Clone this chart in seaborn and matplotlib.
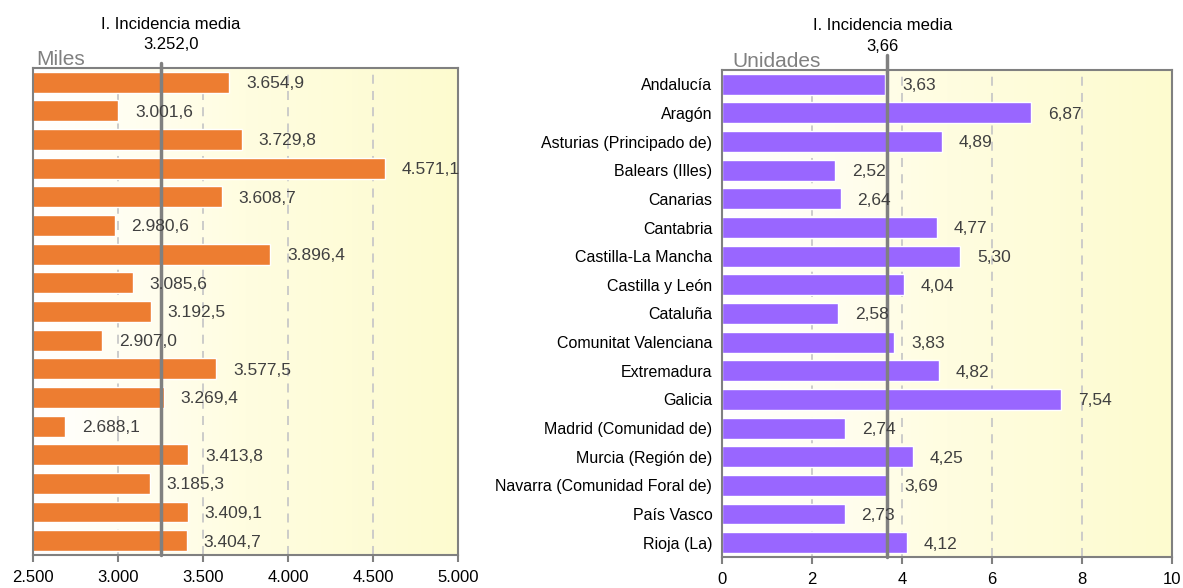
import numpy as np
import pandas as pd
import matplotlib
matplotlib.use("Agg")
import matplotlib.pyplot as plt
from matplotlib.colors import LinearSegmentedColormap
import seaborn as sns

# Data
regions = [
    "Andalucía", "Aragón", "Asturias (Principado de)", "Balears (Illes)",
    "Canarias", "Cantabria", "Castilla-La Mancha", "Castilla y León",
    "Cataluña", "Comunitat Valenciana", "Extremadura", "Galicia",
    "Madrid (Comunidad de)", "Murcia (Región de)",
    "Navarra (Comunidad Foral de)", "País Vasco", "Rioja (La)",
]
miles = [3654.9, 3001.6, 3729.8, 4571.1, 3608.7, 2980.6, 3896.4, 3085.6,
         3192.5, 2907.0, 3577.5, 3269.4, 2688.1, 3413.8, 3185.3, 3409.1, 3404.7]
unidades = [3.63, 6.87, 4.89, 2.52, 2.64, 4.77, 5.30, 4.04, 2.58, 3.83,
            4.82, 7.54, 2.74, 4.25, 3.69, 2.73, 4.12]
media_miles = 3252.0
media_unidades = 3.66
left_ticks = [2500, 3000, 3500, 4000, 4500, 5000]
right_ticks = [0, 2, 4, 6, 8, 10]

ORANGE = "#ED7D31"
PURPLE = "#9966FF"
GREY = "#808080"
TEXT = "#404040"


def es_num(v, dec=1):
    s = f"{v:,.{dec}f}"
    return s.replace(",", "X").replace(".", ",").replace("X", ".")


sns.set_theme(style="white")
plt.rcParams["font.family"] = ["Liberation Sans", "DejaVu Sans"]

df = pd.DataFrame({"region": regions, "miles": miles, "unidades": unidades})

fig = plt.figure(figsize=(11.83, 5.88), dpi=100)
ax1 = fig.add_axes([0.0279, 0.0561, 0.3593, 0.8283])
ax2 = fig.add_axes([0.6103, 0.0527, 0.3804, 0.8283])

bg = LinearSegmentedColormap.from_list("bg", ["#FFFFFF", "#FFFDE0", "#FDFBCF"])
grad = np.linspace(0, 1, 256).reshape(1, -1)


def style_axis(ax, values, color, lim, ticks, mean, dec, unit, ticklabels,
               line_top, unit_x, head_dx):
    ax.imshow(grad, cmap=bg, aspect="auto", extent=[0, 1, 0, 1],
              transform=ax.transAxes, zorder=0)
    sns.barplot(data=df, x=values, y="region", color=color, width=0.73,
                saturation=1, ax=ax, zorder=2)
    ax.set_xlim(*lim)
    ax.set_ylim(len(regions) - 0.5, -0.5)
    ax.set_xticks(ticks)
    ax.set_xticklabels(ticklabels, fontsize=12, color="black")
    for t in ticks[1:-1]:
        ax.axvline(t, color="#C8C8C8", lw=1.3, ls=(0, (5, 4)), zorder=1)
    for s in ax.spines.values():
        s.set_color(GREY)
        s.set_linewidth(1.5)
    ax.tick_params(axis="x", length=5, width=1.5, color=GREY, pad=6,
                   direction="out", bottom=True)
    ax.set_xlabel("")
    ax.set_ylabel("")
    for i, v in enumerate(df[values]):
        ax.annotate(es_num(v, dec), (v, i), xytext=(12, -1),
                    textcoords="offset points", va="center", ha="left",
                    fontsize=12.5, color=TEXT, zorder=4)
    ax.plot([mean, mean], [0, line_top], transform=ax.get_xaxis_transform(),
            color=GREY, lw=2.5, zorder=3, clip_on=False)
    ax.annotate("I. Incidencia media\n" + es_num(mean, dec), (mean, 1.033),
                xycoords=ax.get_xaxis_transform(), xytext=(head_dx, 0),
                textcoords="offset points", ha="center", va="bottom",
                fontsize=12, color="black", linespacing=1.45,
                annotation_clip=False)
    ax.text(unit_x, 0.997, unit, transform=ax.transAxes, ha="left",
            va="bottom", fontsize=15, color=GREY)


style_axis(ax1, "miles", ORANGE, (2500, 5000), left_ticks, media_miles, 1,
           "Miles", [es_num(t, 0) for t in left_ticks], 1.01, 0.008, 7)
ax1.set_yticks([])

style_axis(ax2, "unidades", PURPLE, (0, 10), right_ticks, media_unidades, 2,
           "Unidades", [str(t) for t in right_ticks], 1.03, 0.022, -3)
ax2.set_yticks(range(len(regions)))
ax2.set_yticklabels(regions, fontsize=11.5, color="black")
ax2.tick_params(axis="y", length=0, pad=7)

fig.savefig("out.png", dpi=100)
